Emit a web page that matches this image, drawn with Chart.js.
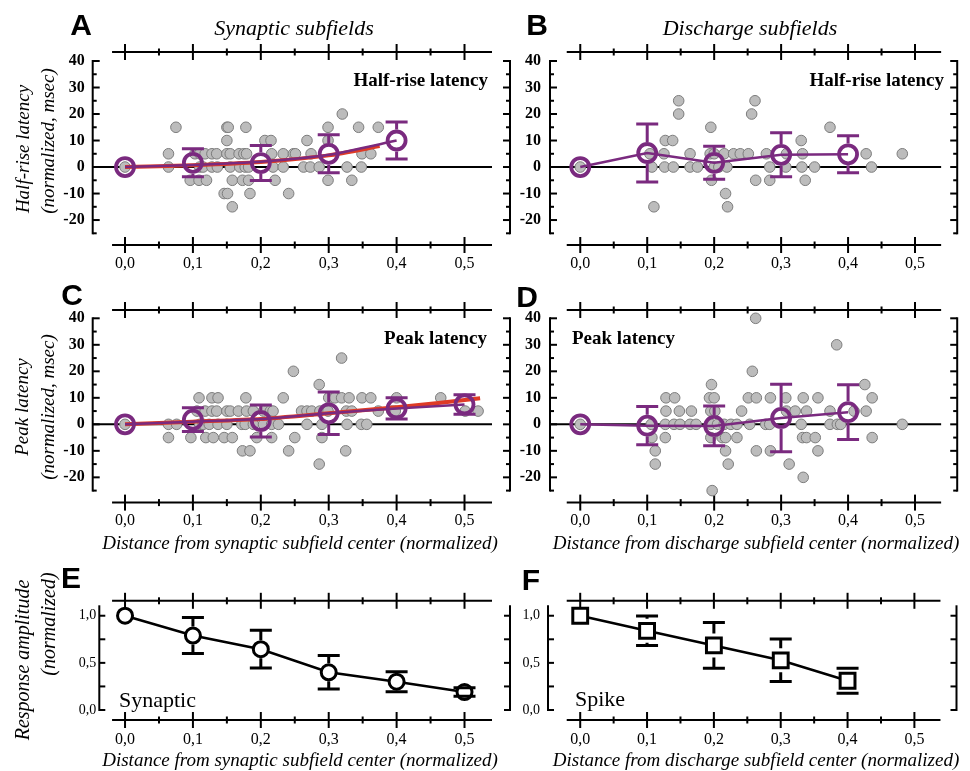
<!DOCTYPE html>
<html>
<head>
<meta charset="utf-8">
<script src="https://cdn.jsdelivr.net/npm/chart.js@4.4.1/dist/chart.umd.min.js"></script>
<style>
  body { margin: 0; background: #fff; }
  #fig { position: relative; width: 970px; height: 771px; overflow: hidden; font-family: "Liberation Serif", "Times New Roman", serif; color: #000; }
  #fig canvas { position: absolute; left: 0; top: 0; }
  .lbl { position: absolute; white-space: nowrap; line-height: 1; transform: translate(-50%, -50%); }
  .right { transform: translate(-100%, -50%); }
  .left { transform: translate(0, -50%); }
  .rot { transform: translate(-50%, -50%) rotate(-90deg); }
  .letter { font: bold 30px "Liberation Sans", Arial, sans-serif; }
  .ttl { font: italic 22px "Liberation Serif", serif; }
  .panel { font: bold 19px "Liberation Serif", serif; }
  .axt { font: italic 19px "Liberation Serif", serif; }
  .tag { font: 22px "Liberation Serif", serif; }
</style>
</head>
<body>
<div id="fig">
  <canvas id="chartA" width="970" height="771"></canvas>
  <canvas id="chartB" width="970" height="771"></canvas>
  <canvas id="chartC" width="970" height="771"></canvas>
  <canvas id="chartD" width="970" height="771"></canvas>
  <canvas id="chartE" width="970" height="771"></canvas>
  <canvas id="chartF" width="970" height="771"></canvas>

  <div class="lbl letter" style="left:81px;top:25px">A</div>
  <div class="lbl letter" style="left:537px;top:25px">B</div>
  <div class="lbl letter" style="left:72px;top:295px">C</div>
  <div class="lbl letter" style="left:527px;top:297px">D</div>
  <div class="lbl letter" style="left:71px;top:578px">E</div>
  <div class="lbl letter" style="left:531px;top:580px">F</div>

  <div class="lbl ttl" style="left:294px;top:28px">Synaptic subfields</div>
  <div class="lbl ttl" style="left:750px;top:28px">Discharge subfields</div>

  <div class="lbl panel right" style="left:488px;top:80px">Half-rise latency</div>
  <div class="lbl panel right" style="left:944px;top:80px">Half-rise latency</div>
  <div class="lbl panel right" style="left:487px;top:338px">Peak latency</div>
  <div class="lbl panel left" style="left:572px;top:338px">Peak latency</div>
  <div class="lbl tag left" style="left:119px;top:700px">Synaptic</div>
  <div class="lbl tag left" style="left:575px;top:699px">Spike</div>

  <div class="lbl axt rot" style="left:23px;top:149px">Half-rise latency</div>
  <div class="lbl axt rot" style="left:48px;top:141px">(normalized, msec)</div>
  <div class="lbl axt rot" style="left:22px;top:407px">Peak latency</div>
  <div class="lbl axt rot" style="left:48px;top:407px">(normalized, msec)</div>
  <div class="lbl axt rot" style="left:22px;top:660px;font-size:20px">Response amplitude</div>
  <div class="lbl axt rot" style="left:48px;top:624px;font-size:20px">(normalized)</div>

  <div class="lbl axt" style="left:300px;top:543px">Distance from synaptic subfield center (normalized)</div>
  <div class="lbl axt" style="left:756px;top:543px">Distance from discharge subfield center (normalized)</div>
  <div class="lbl axt" style="left:300px;top:760px">Distance from synaptic subfield center (normalized)</div>
  <div class="lbl axt" style="left:756px;top:760px">Distance from discharge subfield center (normalized)</div>
</div>

<script>
// ---- axis ticks ----
const xTickValues = [0, 0.1, 0.2, 0.3, 0.4, 0.5];
const xTickLabels = ['0,0', '0,1', '0,2', '0,3', '0,4', '0,5'];
const xMinorTicks = [0.05, 0.15, 0.25, 0.35, 0.45];
const latencyTickValues = [40, 30, 20, 10, 0, -10, -20];
const latencyTickLabels = ['40', '30', '20', '10', '0', '-10', '-20'];
const latencyMinorTicks = [35, 25, 15, 5, -5, -15, -25];
const amplitudeTickValues = [1, 0.5, 0];
const amplitudeTickLabels = ['1,0', '0,5', '0,0'];
const amplitudeMinorTicks = [0.75, 0.25];

// ---- individual cells [distance, latency] ----
const halfRiseSynapticCells = [
  [0.320, 20],
  [0.075, 15], [0.150, 15], [0.152, 15], [0.178, 15], [0.299, 15], [0.344, 15], [0.373, 15],
  [0.150, 10], [0.206, 10], [0.215, 10], [0.268, 10], [0.299, 10],
  [0.064, 5], [0.103, 5], [0.110, 5], [0.118, 5], [0.128, 5], [0.135, 5], [0.150, 5], [0.155, 5], [0.168, 5],
  [0.175, 5], [0.179, 5], [0.216, 5], [0.233, 5], [0.248, 5], [0.251, 5], [0.274, 5], [0.349, 5], [0.362, 5],
  [0, 0], [0.064, 0], [0.110, 0], [0.115, 0], [0.128, 0], [0.136, 0], [0.155, 0], [0.169, 0], [0.177, 0],
  [0.182, 0], [0.218, 0], [0.233, 0], [0.263, 0], [0.273, 0], [0.286, 0], [0.327, 0], [0.348, 0],
  [0.096, -5], [0.109, -5], [0.120, -5], [0.158, -5], [0.173, -5], [0.182, -5], [0.221, -5], [0.299, -5], [0.334, -5],
  [0.146, -10], [0.151, -10], [0.184, -10], [0.241, -10],
  [0.158, -15]
];
const halfRiseDischargeCells = [
  [0.147, 25], [0.261, 25],
  [0.147, 20], [0.256, 20],
  [0.195, 15], [0.373, 15],
  [0.127, 10], [0.138, 10], [0.330, 10],
  [0.104, 5], [0.125, 5], [0.164, 5], [0.194, 5], [0.200, 5], [0.215, 5], [0.229, 5], [0.239, 5], [0.251, 5],
  [0.278, 5], [0.308, 5], [0.332, 5], [0.427, 5], [0.481, 5],
  [0, 0], [0.107, 0], [0.126, 0], [0.139, 0], [0.164, 0], [0.175, 0], [0.200, 0], [0.207, 0], [0.219, 0],
  [0.283, 0], [0.307, 0], [0.331, 0], [0.350, 0], [0.435, 0],
  [0.196, -5], [0.262, -5], [0.283, -5], [0.336, -5],
  [0.217, -10],
  [0.110, -15], [0.220, -15]
];
const peakSynapticCells = [
  [0.319, 25], [0.248, 20], [0.286, 15],
  [0.109, 10], [0.128, 10], [0.137, 10], [0.178, 10], [0.233, 10], [0.300, 10], [0.309, 10], [0.319, 10],
  [0.330, 10], [0.349, 10], [0.362, 10], [0.400, 10], [0.465, 10],
  [0.106, 5], [0.118, 5], [0.128, 5], [0.135, 5], [0.150, 5], [0.155, 5], [0.167, 5], [0.179, 5], [0.189, 5],
  [0.204, 5], [0.214, 5], [0.218, 5], [0.260, 5], [0.268, 5], [0.275, 5], [0.287, 5], [0.299, 5], [0.326, 5],
  [0.334, 5], [0.373, 5], [0.393, 5], [0.398, 5], [0.501, 5], [0.520, 5],
  [0, 0], [0.064, 0], [0.076, 0], [0.110, 0], [0.115, 0], [0.124, 0], [0.137, 0], [0.150, 0], [0.172, 0],
  [0.177, 0], [0.189, 0], [0.204, 0], [0.216, 0], [0.226, 0], [0.268, 0], [0.290, 0], [0.327, 0], [0.348, 0], [0.356, 0],
  [0.064, -5], [0.097, -5], [0.119, -5], [0.130, -5], [0.146, -5], [0.158, -5], [0.194, -5], [0.216, -5], [0.250, -5], [0.290, -5],
  [0.173, -10], [0.184, -10], [0.241, -10], [0.325, -10],
  [0.286, -15]
];
const peakDischargeCells = [
  [0.262, 40], [0.383, 30], [0.257, 20],
  [0.196, 15], [0.425, 15],
  [0.128, 10], [0.141, 10], [0.193, 10], [0.200, 10], [0.251, 10], [0.263, 10], [0.284, 10], [0.307, 10],
  [0.333, 10], [0.355, 10], [0.436, 10],
  [0.128, 5], [0.148, 5], [0.166, 5], [0.195, 5], [0.201, 5], [0.241, 5], [0.308, 5], [0.321, 5], [0.338, 5],
  [0.373, 5], [0.409, 5], [0.427, 5],
  [0, 0], [0.106, 0], [0.127, 0], [0.140, 0], [0.149, 0], [0.164, 0], [0.173, 0], [0.195, 0], [0.205, 0],
  [0.215, 0], [0.225, 0], [0.234, 0], [0.253, 0], [0.277, 0], [0.283, 0], [0.330, 0], [0.373, 0], [0.384, 0],
  [0.389, 0], [0.481, 0],
  [0.107, -5], [0.127, -5], [0.195, -5], [0.212, -5], [0.217, -5], [0.234, -5], [0.332, -5], [0.338, -5], [0.351, -5], [0.436, -5],
  [0.112, -10], [0.217, -10], [0.263, -10], [0.284, -10], [0.355, -10],
  [0.112, -15], [0.221, -15], [0.312, -15],
  [0.333, -20], [0.197, -25]
];

// ---- group means and error bars ----
const meanDistances = [0, 0.1, 0.2, 0.3, 0.4];
const meanDistancesLong = [0, 0.1, 0.2, 0.3, 0.4, 0.5];
const halfRiseSynapticMean = [0, 1.6, 1.5, 5, 10];
const halfRiseSynapticErr = [0, 5.3, 6.6, 7.2, 7];
const halfRiseDischargeMean = [0, 5.3, 1.6, 4.6, 4.8];
const halfRiseDischargeErr = [0, 10.9, 6.2, 8.3, 7];
const peakSynapticMean = [0, 1.75, 1.25, 4.15, 6, 7.5];
const peakSynapticErr = [0, 4.5, 6, 8, 4, 3.7];
const peakDischargeMean = [0, -0.5, -0.6, 2.4, 4.6];
const peakDischargeErr = [0, 7.2, 7.5, 12.7, 10.3];
const amplitudeSynapticMean = [1, 0.79, 0.645, 0.40, 0.30, 0.19];
const amplitudeSynapticErr = [0, 0.19, 0.2, 0.177, 0.106, 0.045];
const amplitudeSpikeMean = [1, 0.84, 0.685, 0.527, 0.31];
const amplitudeSpikeErr = [0, 0.157, 0.243, 0.226, 0.133];

// ---- fitted curves ----
const halfRiseFitRedX = [0, 0.1, 0.2, 0.3, 0.375];
const halfRiseFitRedY = [0, 0.7, 1.9, 4.4, 7.9];
const halfRiseFitPurpleX = [0, 0.1, 0.2, 0.3, 0.4];
const halfRiseFitPurpleY = [0, 0.8, 2.0, 4.6, 10];
const peakFitRedX = [0, 0.1, 0.2, 0.3, 0.4, 0.523];
const peakFitRedY = [0, 1.0, 2.0, 4.2, 6.4, 9.8];
const peakFitPurpleX = [0, 0.1, 0.2, 0.3, 0.4, 0.5];
const peakFitPurpleY = [0, 1.0, 2.0, 4.2, 6.0, 7.5];

const W = 970, H = 771;
const Y_BOX = 60, X_BOX = 40; // room kept for tick labels
const PURPLE = '#7a2a7f';
const RED = '#de3b26';
const SERIF = '"Liberation Serif", "Times New Roman", serif';

const toPoints = (xs, ys) => xs.map((x, i) => ({ x, y: ys[i] }));
const fromPairs = list => list.map(([x, y]) => ({ x, y }));

// axis lines, crossing ticks, right-hand axis and the zero line
const framePlugin = {
  id: 'frame',
  beforeDatasetsDraw(chart, args, opts) {
    const { ctx, chartArea: a } = chart;
    const x = chart.scales.x, y = chart.scales.y;
    const seg = (x0, y0, x1, y1) => { ctx.beginPath(); ctx.moveTo(x0, y0); ctx.lineTo(x1, y1); ctx.stroke(); };
    ctx.save();
    ctx.strokeStyle = '#000';
    ctx.lineWidth = 2;
    const xl = x.getPixelForValue(opts.xFrom), xr = x.getPixelForValue(opts.xTo);
    if (opts.zeroLine) {
      const yz = y.getPixelForValue(0);
      seg(a.left, yz, xr, yz);
    }
    [a.top - opts.topGap, a.bottom + opts.bottomGap].forEach(py => {
      seg(xl, py, xr, py);
      xTickValues.forEach(v => { const px = x.getPixelForValue(v); seg(px, py - 8, px, py + 8); });
      xMinorTicks.forEach(v => { const px = x.getPixelForValue(v); seg(px, py - 3.5, px, py + 3.5); });
    });
    [[a.left, 1], [a.right, -1]].forEach(([px, dir]) => {
      seg(px, a.top - 1, px, a.bottom + 1);
      opts.yMajor.forEach(v => { const py = y.getPixelForValue(v); seg(px, py, px + dir * opts.majorLen, py); });
      opts.yMinor.forEach(v => { const py = y.getPixelForValue(v); seg(px, py, px + dir * opts.minorLen, py); });
    });
    ctx.restore();
  }
};

// vertical error bars with caps, drawn from the marker edge outward
const errorBarPlugin = {
  id: 'errorBars',
  afterDatasetsDraw(chart) {
    const { ctx } = chart;
    const x = chart.scales.x, y = chart.scales.y;
    chart.data.datasets.forEach(ds => {
      if (!ds.errors) return;
      ctx.save();
      ctx.strokeStyle = ds.errColor;
      ctx.lineWidth = 3;
      const r = ds.pointRadius + ds.pointBorderWidth / 2;
      ds.data.forEach((p, j) => {
        const e = ds.errors[j];
        if (!e) return;
        const px = x.getPixelForValue(p.x);
        const pc = y.getPixelForValue(p.y);
        const pt = y.getPixelForValue(p.y + e);
        const pb = y.getPixelForValue(p.y - e);
        ctx.beginPath();
        if (pt < pc - r) { ctx.moveTo(px, pt); ctx.lineTo(px, pc - r); }
        if (pb > pc + r) { ctx.moveTo(px, pc + r); ctx.lineTo(px, pb); }
        ctx.moveTo(px - 11, pt); ctx.lineTo(px + 11, pt);
        ctx.moveTo(px - 11, pb); ctx.lineTo(px + 11, pb);
        ctx.stroke();
      });
      ctx.restore();
    });
  }
};

function buildChart(id, cfg) {
  const [left, top, right, bottom] = cfg.area;
  return new Chart(document.getElementById(id), {
    type: 'scatter',
    data: { datasets: cfg.datasets },
    options: {
      responsive: false,
      animation: false,
      events: [],
      layout: { padding: { left: left - Y_BOX, top, right: W - right, bottom: H - bottom - X_BOX } },
      plugins: { legend: { display: false }, tooltip: { enabled: false }, frame: cfg.frame },
      scales: {
        x: {
          type: 'linear', position: 'bottom', min: cfg.xMin, max: cfg.xMax,
          afterFit: s => { s.height = X_BOX; },
          afterBuildTicks: s => { s.ticks = xTickValues.map(v => ({ value: v })); },
          grid: { display: false, drawTicks: false },
          border: { display: false },
          ticks: {
            padding: cfg.xPad, color: '#000', autoSkip: false, maxRotation: 0,
            font: { family: SERIF, size: 16 },
            callback: (v, i) => xTickLabels[i]
          }
        },
        y: {
          type: 'linear', position: 'left', min: cfg.yMin, max: cfg.yMax,
          afterFit: s => { s.width = Y_BOX; },
          afterBuildTicks: s => { s.ticks = cfg.yTicks.map(v => ({ value: v })); },
          grid: { display: false, drawTicks: false },
          border: { display: false },
          ticks: {
            padding: cfg.yPad, color: '#000', autoSkip: false,
            font: cfg.yFont,
            callback: (v, i) => cfg.yLabels[i]
          }
        }
      }
    },
    plugins: [framePlugin, errorBarPlugin]
  });
}

function cellsDataset(cells) {
  return {
    data: fromPairs(cells), order: 5, clip: 14,
    pointRadius: 5.3, pointBorderWidth: 1,
    pointBackgroundColor: '#bcbcbc', pointBorderColor: '#7c7c7c'
  };
}
function curveDataset(xs, ys, color, width, order) {
  return {
    data: toPoints(xs, ys), order, showLine: true, clip: 14,
    borderColor: color, borderWidth: width, pointRadius: 0, tension: 0.2
  };
}
function meanDataset(xs, ys, errs, joined) {
  return {
    data: toPoints(xs, ys), order: 1, showLine: joined, clip: 14,
    borderColor: PURPLE, borderWidth: 2.5,
    pointRadius: 9, pointBorderWidth: 3.8,
    pointBackgroundColor: 'rgba(255,255,255,0)', pointBorderColor: PURPLE,
    errors: errs, errColor: PURPLE
  };
}
function amplitudeDataset(xs, ys, errs, style, radius) {
  return {
    data: toPoints(xs, ys), order: 1, showLine: true, clip: 14,
    borderColor: '#000', borderWidth: 2.5,
    pointStyle: style, pointRadius: radius, pointBorderWidth: 3,
    pointBackgroundColor: '#fff', pointBorderColor: '#000',
    errors: errs, errColor: '#000'
  };
}

const latencyFrame = { yMajor: latencyTickValues, yMinor: latencyMinorTicks, majorLen: 7, minorLen: 4, zeroLine: true };
const amplitudeFrame = { yMajor: amplitudeTickValues, yMinor: amplitudeMinorTicks, majorLen: 6, minorLen: 6, zeroLine: false };
const latencyAxis = { yMin: -25, yMax: 40, yTicks: latencyTickValues, yLabels: latencyTickLabels, yFont: { family: SERIF, size: 16, weight: 'bold' } };
const amplitudeAxis = { yMin: 0, yMax: 1.1, yTicks: amplitudeTickValues, yLabels: amplitudeTickLabels, yFont: { family: SERIF, size: 14 } };

// A: half-rise latency, synaptic
buildChart('chartA', Object.assign({
  area: [92.7, 61, 510, 233.3], xMin: -0.0476, xMax: 0.567, xPad: 21, yPad: 8,
  frame: Object.assign({ xFrom: -0.0191, xTo: 0.5405, topGap: 9, bottomGap: 11.7 }, latencyFrame),
  datasets: [
    cellsDataset(halfRiseSynapticCells),
    curveDataset(halfRiseFitRedX, halfRiseFitRedY, RED, 4, 3),
    curveDataset(halfRiseFitPurpleX, halfRiseFitPurpleY, PURPLE, 2.5, 2),
    meanDataset(meanDistances, halfRiseSynapticMean, halfRiseSynapticErr, false)
  ]
}, latencyAxis));

// B: half-rise latency, discharge
buildChart('chartB', Object.assign({
  area: [550, 61, 963, 233.3], xMin: -0.0452, xMax: 0.563, xPad: 21, yPad: 9,
  frame: Object.assign({ xFrom: -0.0202, xTo: 0.539, topGap: 9, bottomGap: 11.7 }, latencyFrame),
  datasets: [
    cellsDataset(halfRiseDischargeCells),
    meanDataset(meanDistances, halfRiseDischargeMean, halfRiseDischargeErr, true)
  ]
}, latencyAxis));

// C: peak latency, synaptic
buildChart('chartC', Object.assign({
  area: [92.7, 318.3, 510, 490.6], xMin: -0.0476, xMax: 0.567, xPad: 21, yPad: 8,
  frame: Object.assign({ xFrom: -0.0191, xTo: 0.5405, topGap: 8.3, bottomGap: 12 }, latencyFrame),
  datasets: [
    cellsDataset(peakSynapticCells),
    curveDataset(peakFitRedX, peakFitRedY, RED, 4, 3),
    curveDataset(peakFitPurpleX, peakFitPurpleY, PURPLE, 2.5, 2),
    meanDataset(meanDistancesLong, peakSynapticMean, peakSynapticErr, false)
  ]
}, latencyAxis));

// D: peak latency, discharge
buildChart('chartD', Object.assign({
  area: [550, 318.3, 963, 490.6], xMin: -0.0452, xMax: 0.563, xPad: 21, yPad: 9,
  frame: Object.assign({ xFrom: -0.0202, xTo: 0.539, topGap: 8.3, bottomGap: 12 }, latencyFrame),
  datasets: [
    cellsDataset(peakDischargeCells),
    meanDataset(meanDistances, peakDischargeMean, peakDischargeErr, true)
  ]
}, latencyAxis));

// E: response amplitude, synaptic
buildChart('chartE', Object.assign({
  area: [99.3, 606.3, 510, 710], xMin: -0.0379, xMax: 0.567, xPad: 20, yPad: 3,
  frame: Object.assign({ xFrom: -0.0191, xTo: 0.5405, topGap: 5.5, bottomGap: 10 }, amplitudeFrame),
  datasets: [amplitudeDataset(meanDistancesLong, amplitudeSynapticMean, amplitudeSynapticErr, 'circle', 7.5)]
}, amplitudeAxis));

// F: response amplitude, spike
buildChart('chartF', Object.assign({
  area: [548, 606.3, 963, 710], xMin: -0.0482, xMax: 0.563, xPad: 20, yPad: 8,
  frame: Object.assign({ xFrom: -0.0202, xTo: 0.539, topGap: 5.5, bottomGap: 10 }, amplitudeFrame),
  datasets: [amplitudeDataset(meanDistances, amplitudeSpikeMean, amplitudeSpikeErr, 'rect', 10.5)]
}, amplitudeAxis));
</script>
</body>
</html>
